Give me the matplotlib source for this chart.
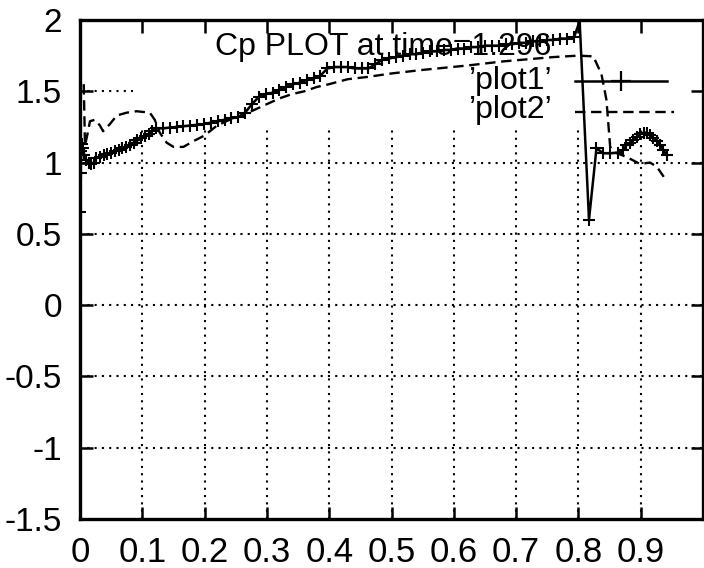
import matplotlib
matplotlib.use("Agg")
import matplotlib.pyplot as plt
import numpy as np

plt.rcParams['font.family'] = ['Liberation Sans', 'DejaVu Sans']
plt.rcParams['axes.unicode_minus'] = False

# pressure coefficient, first run (line + points)
x_plot1 = [0.000, 0.001, 0.002, 0.003, 0.005, 0.007, 0.010, 0.014, 0.018,
           0.022, 0.026, 0.032, 0.038, 0.044, 0.050, 0.056, 0.062, 0.068,
           0.074, 0.080, 0.086, 0.092, 0.098, 0.104, 0.110, 0.116, 0.122,
           0.133, 0.144, 0.155, 0.166, 0.177, 0.188, 0.199, 0.210, 0.221,
           0.232, 0.243, 0.254, 0.265, 0.276, 0.287, 0.298, 0.309, 0.320,
           0.331, 0.342, 0.353, 0.364, 0.375, 0.386, 0.397, 0.408, 0.419,
           0.430, 0.441, 0.452, 0.463, 0.474, 0.485, 0.496, 0.507, 0.518,
           0.529, 0.540, 0.551, 0.562, 0.573, 0.584, 0.595, 0.606, 0.617,
           0.628, 0.639, 0.650, 0.661, 0.672, 0.683, 0.694, 0.705, 0.716,
           0.727, 0.738, 0.749, 0.760, 0.771, 0.782, 0.793, 0.802,
           0.817, 0.829, 0.840, 0.851, 0.864, 0.872, 0.877, 0.883, 0.888,
           0.894, 0.899, 0.905, 0.910, 0.915, 0.920, 0.926, 0.931, 0.936,
           0.942]
y_plot1 = [0.65, 0.93, 1.08, 1.13, 1.10, 1.05, 1.02, 1.00, 0.99,
           1.00, 1.03, 1.04, 1.05, 1.06, 1.07, 1.08, 1.09, 1.10,
           1.11, 1.125, 1.14, 1.155, 1.17, 1.185, 1.20, 1.22, 1.24,
           1.24, 1.245, 1.25, 1.255, 1.26, 1.265, 1.27, 1.28, 1.29,
           1.30, 1.31, 1.32, 1.35, 1.41, 1.46, 1.48, 1.49, 1.51,
           1.53, 1.55, 1.56, 1.58, 1.59, 1.61, 1.66, 1.67, 1.67,
           1.67, 1.66, 1.66, 1.66, 1.69, 1.72, 1.73, 1.74, 1.75,
           1.76, 1.76, 1.77, 1.78, 1.78, 1.79, 1.79, 1.80, 1.80,
           1.81, 1.81, 1.82, 1.82, 1.82, 1.83, 1.83, 1.84, 1.84,
           1.85, 1.85, 1.86, 1.86, 1.87, 1.87, 1.88, 1.99,
           0.60, 1.10, 1.065, 1.065, 1.07, 1.09, 1.12, 1.14, 1.16,
           1.18, 1.20, 1.21, 1.21, 1.19, 1.17, 1.15, 1.12, 1.09,
           1.05]

# second run (dashed)
x_plot2 = [0.006, 0.008, 0.012, 0.016, 0.024, 0.032, 0.037, 0.048, 0.059,
           0.075, 0.091, 0.112, 0.120, 0.128, 0.139, 0.150, 0.166, 0.182,
           0.200, 0.220, 0.240, 0.260, 0.280, 0.300, 0.320, 0.340, 0.360,
           0.380, 0.400, 0.430, 0.460, 0.500, 0.550, 0.620, 0.680, 0.720,
           0.760, 0.800, 0.824, 0.837, 0.845, 0.851, 0.859, 0.877, 0.899,
           0.915, 0.926, 0.937]
y_plot2 = [1.55, 1.12, 1.20, 1.29, 1.30, 1.26, 1.22, 1.27, 1.33,
           1.35, 1.36, 1.35, 1.30, 1.21, 1.14, 1.11, 1.11, 1.15,
           1.19, 1.26, 1.30, 1.33, 1.37, 1.41, 1.45, 1.48, 1.50,
           1.53, 1.55, 1.585, 1.60, 1.625, 1.65, 1.68, 1.71, 1.725,
           1.74, 1.75, 1.745, 1.62, 1.44, 1.11, 1.07, 1.04, 0.99,
           1.00, 0.97, 0.90]

x_ticks = [0, 0.1, 0.2, 0.3, 0.4, 0.5, 0.6, 0.7, 0.8, 0.9]
x_labels = ['0', '0.1', '0.2', '0.3', '0.4', '0.5', '0.6', '0.7', '0.8', '0.9']
y_ticks = [-1.5, -1, -0.5, 0, 0.5, 1, 1.5, 2]
y_labels = ['-1.5', '-1', '-0.5', '0', '0.5', '1', '1.5', '2']

title = 'Cp PLOT at time=1.296'
names = ['\u2019plot1\u2019', '\u2019plot2\u2019']

FS = 23
dash = (0, (4.4, 2.4))

fig = plt.figure(figsize=(7.04, 5.68), dpi=100)
ax = fig.add_axes([80 / 704, 49 / 568, 623 / 704, 499 / 568])

# dotted grid, kept clear of the title/key block at the top
grid_kw = dict(color='black', lw=1.5, ls=(0, (1, 2.5)), zorder=1)
ax.vlines(x_ticks[1:], -1.5, 1.23, **grid_kw)
ax.hlines([t for t in y_ticks if -1.5 < t < 1.5], 0, 1, **grid_kw)
ax.hlines([1.5], 0, 0.085, **grid_kw)

ax.plot(x_plot1, y_plot1, color='black', lw=1.8, marker='+', ms=9, mew=1.5, zorder=3)
ax.plot(x_plot2, y_plot2, color='black', lw=1.7, ls=dash, zorder=3)

ax.set_xlim(0, 1)
ax.set_ylim(-1.5, 2)
ax.set_xticks(x_ticks)
ax.set_xticklabels(x_labels)
ax.set_yticks(y_ticks)
ax.set_yticklabels(y_labels)
ax.tick_params(direction='in', length=9, width=1.8, top=True, right=True)
ax.tick_params(axis='y', pad=13, labelsize=24)
ax.tick_params(axis='x', pad=12, labelsize=25)
for s in ax.spines.values():
    s.set_linewidth(2.4)

ax.text(0.487, 0.93, title, transform=ax.transAxes, ha='center',
        va='baseline', fontsize=FS)

# key: label on the left, sample on the right
key_y = [0.878, 0.82]
ax.text(0.759, key_y[0], names[0], transform=ax.transAxes, ha='right', va='center', fontsize=FS)
ax.text(0.759, key_y[1], names[1], transform=ax.transAxes, ha='right', va='center', fontsize=FS)
ax.plot([0.7945, 0.9423], [key_y[0]] * 2, transform=ax.transAxes, color='black', lw=1.8)
ax.plot([0.868], [key_y[0]], transform=ax.transAxes, color='black', marker='+', ms=14, mew=1.6)
ax.plot([0.7945, 0.953], [key_y[1] - 0.004] * 2, transform=ax.transAxes, color='black', lw=1.7, ls=dash)

fig.savefig('out.png', dpi=100)
